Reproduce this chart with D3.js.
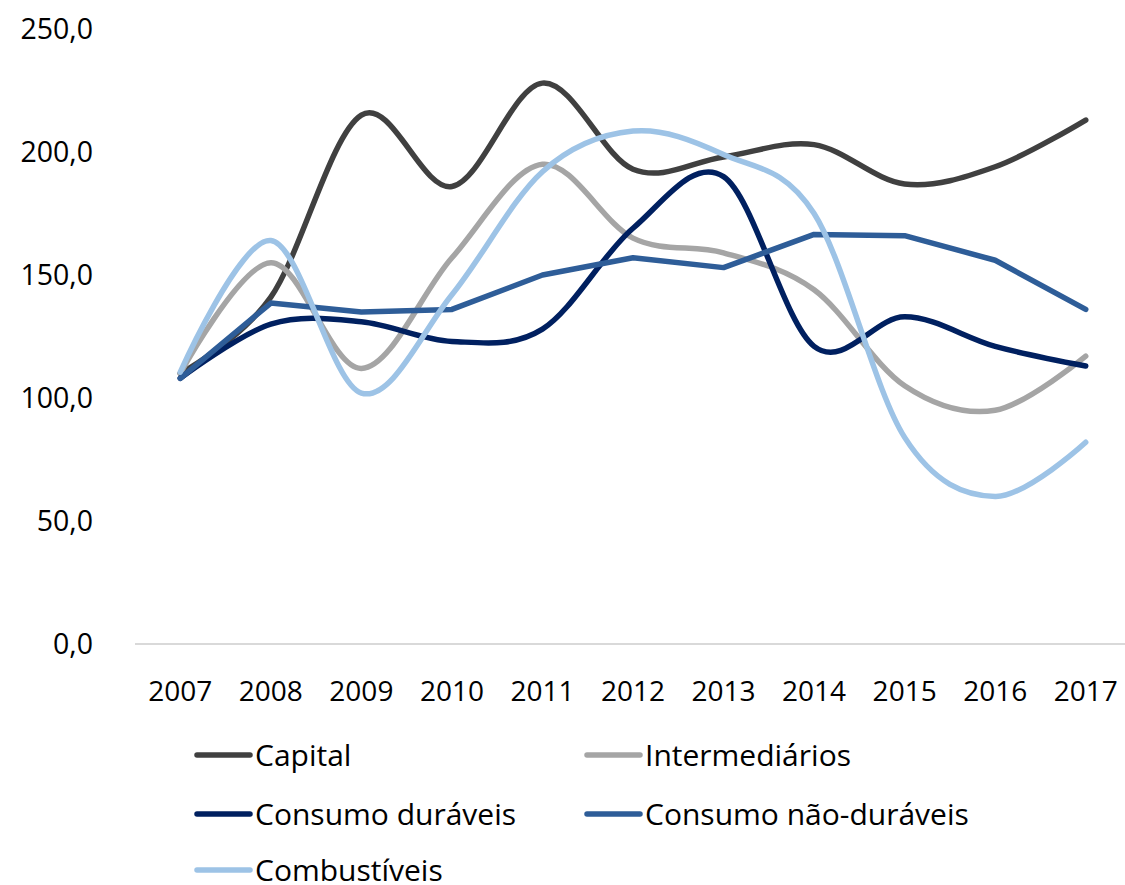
<!DOCTYPE html>
<html>
<head>
<meta charset="utf-8">
<script src="https://cdn.jsdelivr.net/npm/d3@7"></script>
<style>
    body { margin: 0; background: #fff; }
    text { font-family: "Open Sans", "Noto Sans", sans-serif; fill: #000; }
</style>
</head>
<body>
<div id="chart"></div>
<script>
// chart data
let years = ["2007", "2008", "2009", "2010", "2011", "2012", "2013", "2014", "2015", "2016", "2017"];
let capital = [110, 141, 215, 186, 228, 193, 198, 203, 187, 194, 213];
let intermediarios = [110, 155, 112, 157, 195, 165, 159, 144, 105, 95, 117];
let consumoDuraveis = [108, 130, 131, 123, 128, 169, 190, 121, 133, 121, 113];
let consumoNaoDuraveis = [108, 138.6, 135, 136, 150, 157, 153, 166.5, 166, 156, 136];
let combustiveis = [110.5, 164, 102, 142, 192, 208.5, 199, 175, 84, 60, 82];
let yTicks = [0, 50, 100, 150, 200, 250];

(function() {
    let w = 1125;
    let h = 885;

    let series = [
        {name: "Capital", values: capital, color: "#404040", smooth: true},
        {name: "Intermediários", values: intermediarios, color: "#a5a5a5", smooth: true},
        {name: "Consumo duráveis", values: consumoDuraveis, color: "#002060", smooth: true},
        {name: "Consumo não-duráveis", values: consumoNaoDuraveis, color: "#2e5d98", smooth: false},
        {name: "Combustíveis", values: combustiveis, color: "#9dc3e6", smooth: true}
    ];

    let svg = d3.select("#chart")
        .append("svg")
        .attr("width", w)
        .attr("height", h);

    let x = d3.scaleBand()
        .domain(years)
        .range([135, 1131]);

    let y = d3.scaleLinear()
        .domain([0, 250])
        .range([644, 29]);

    let fmt = d3.formatLocale({decimal: ",", thousands: ".", grouping: [3], currency: ["R$", ""]}).format(".1f");

    // y axis labels only
    let yAxis = svg.append("g")
        .attr("transform", "translate(93,0)")
        .call(d3.axisLeft(y).tickValues(yTicks).tickFormat(fmt).tickSize(0).tickPadding(0));
    yAxis.select(".domain").remove();
    yAxis.selectAll("text").style("font-size", "28.5px").attr("dy", "0.35em");

    // baseline
    svg.append("line")
        .attr("x1", 135)
        .attr("x2", 1131)
        .attr("y1", y(0))
        .attr("y2", y(0))
        .attr("stroke", "#d9d9d9")
        .attr("stroke-width", 2);

    let xAxis = svg.append("g")
        .attr("transform", "translate(0,691)")
        .call(d3.axisBottom(x).tickSize(0).tickPadding(0));
    xAxis.select(".domain").remove();
    xAxis.selectAll("text").style("font-size", "28px").attr("dy", "0.35em");

    let cx = (d, i) => x(years[i]) + x.bandwidth() / 2;

    series.forEach((s) => {
        let line = d3.line()
            .x((d, i) => cx(d, i))
            .y((d) => y(d))
            .curve(s.smooth ? d3.curveCardinal.tension(0) : d3.curveLinear);

        svg.append("path")
            .datum(s.values)
            .attr("d", line)
            .attr("fill", "none")
            .attr("stroke", s.color)
            .attr("stroke-width", 5.5)
            .attr("stroke-linecap", "round")
            .attr("stroke-linejoin", "round");
    });

    // legend
    let colX = [197, 587];
    let rowY = [755, 814, 870];
    let legend = svg.selectAll(".legend")
        .data(series)
        .enter()
        .append("g")
        .attr("class", "legend")
        .attr("transform", (d, i) => "translate(" + colX[i % 2] + "," + rowY[Math.floor(i / 2)] + ")");

    legend.append("line")
        .attr("x1", 0)
        .attr("x2", 53)
        .attr("stroke", (d) => d.color)
        .attr("stroke-width", 5.5)
        .attr("stroke-linecap", "round");

    legend.append("text")
        .attr("x", 58)
        .attr("dy", "0.35em")
        .style("font-size", "30px")
        .text((d) => d.name);
})();
</script>
</body>
</html>
